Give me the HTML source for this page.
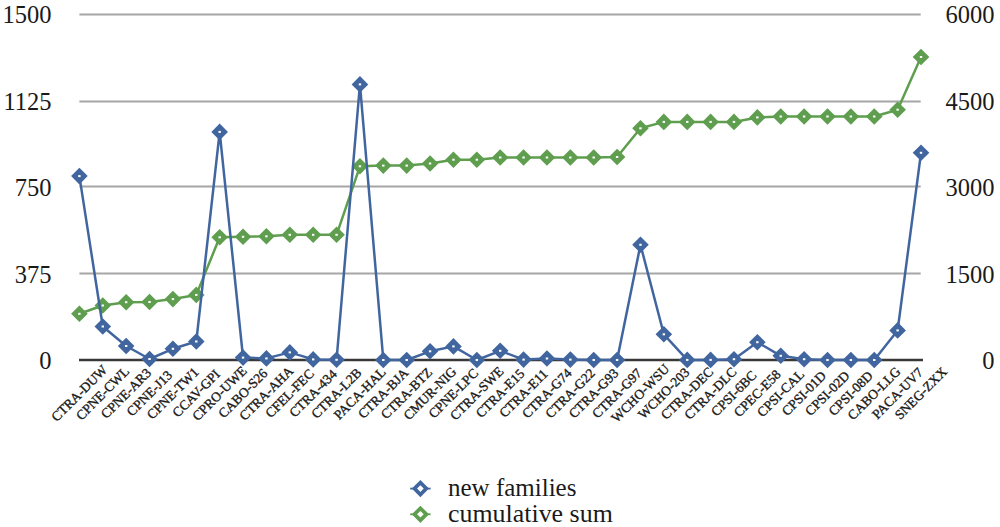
<!DOCTYPE html>
<html><head><meta charset="utf-8"><title>chart</title>
<style>
html,body{margin:0;padding:0;background:#fff;width:1000px;height:527px;overflow:hidden}
svg{display:block}
text{font-family:"Liberation Serif",serif;fill:#1a1a1a}
.ax{font-size:24.5px}
.xl{font-size:13.5px;stroke:#1a1a1a;stroke-width:0.35px}
.lg{font-size:25px}
</style></head><body>
<svg width="1000" height="527" viewBox="0 0 1000 527">
<rect width="1000" height="527" fill="#fff"/>
<line x1="79.4" y1="14.5" x2="920.7" y2="14.5" stroke="#a6a6a6" stroke-width="2"/>
<line x1="79.4" y1="101.5" x2="920.7" y2="101.5" stroke="#a6a6a6" stroke-width="2"/>
<line x1="79.4" y1="186.5" x2="920.7" y2="186.5" stroke="#a6a6a6" stroke-width="2"/>
<line x1="79.4" y1="273.5" x2="920.7" y2="273.5" stroke="#a6a6a6" stroke-width="2"/>
<line x1="79" y1="360" x2="923" y2="360" stroke="#383838" stroke-width="2.4"/>
<polyline points="79.40,313.80 102.78,305.50 126.16,302.20 149.53,302.00 172.91,299.10 196.29,294.90 219.67,237.30 243.05,236.80 266.42,236.30 289.80,234.80 313.18,234.80 336.56,234.80 359.94,166.30 383.31,165.60 406.69,165.60 430.07,163.50 453.45,159.70 476.83,159.70 500.20,157.50 523.58,157.50 546.96,157.50 570.34,157.50 593.72,157.50 617.09,157.00 640.47,128.30 663.85,121.90 687.23,121.90 710.61,121.90 733.98,121.90 757.36,117.40 780.74,116.50 804.12,116.50 827.50,116.50 850.87,116.50 874.25,116.50 897.63,109.70 921.01,57.00" fill="none" stroke="#5e9e4e" stroke-width="2.5" stroke-linejoin="round"/>
<path d="M79.40 305.50L87.70 313.80L79.40 322.10L71.10 313.80Z" fill="#5e9e4e"/>
<rect x="78.20" y="312.80" width="2.4" height="2" fill="#fff"/>
<path d="M102.78 297.20L111.08 305.50L102.78 313.80L94.48 305.50Z" fill="#5e9e4e"/>
<rect x="101.58" y="304.50" width="2.4" height="2" fill="#fff"/>
<path d="M126.16 293.90L134.46 302.20L126.16 310.50L117.86 302.20Z" fill="#5e9e4e"/>
<rect x="124.96" y="301.20" width="2.4" height="2" fill="#fff"/>
<path d="M149.53 293.70L157.83 302.00L149.53 310.30L141.23 302.00Z" fill="#5e9e4e"/>
<rect x="148.33" y="301.00" width="2.4" height="2" fill="#fff"/>
<path d="M172.91 290.80L181.21 299.10L172.91 307.40L164.61 299.10Z" fill="#5e9e4e"/>
<rect x="171.71" y="298.10" width="2.4" height="2" fill="#fff"/>
<path d="M196.29 286.60L204.59 294.90L196.29 303.20L187.99 294.90Z" fill="#5e9e4e"/>
<rect x="195.09" y="293.90" width="2.4" height="2" fill="#fff"/>
<path d="M219.67 229.00L227.97 237.30L219.67 245.60L211.37 237.30Z" fill="#5e9e4e"/>
<rect x="218.47" y="236.30" width="2.4" height="2" fill="#fff"/>
<path d="M243.05 228.50L251.35 236.80L243.05 245.10L234.75 236.80Z" fill="#5e9e4e"/>
<rect x="241.85" y="235.80" width="2.4" height="2" fill="#fff"/>
<path d="M266.42 228.00L274.72 236.30L266.42 244.60L258.12 236.30Z" fill="#5e9e4e"/>
<rect x="265.22" y="235.30" width="2.4" height="2" fill="#fff"/>
<path d="M289.80 226.50L298.10 234.80L289.80 243.10L281.50 234.80Z" fill="#5e9e4e"/>
<rect x="288.60" y="233.80" width="2.4" height="2" fill="#fff"/>
<path d="M313.18 226.50L321.48 234.80L313.18 243.10L304.88 234.80Z" fill="#5e9e4e"/>
<rect x="311.98" y="233.80" width="2.4" height="2" fill="#fff"/>
<path d="M336.56 226.50L344.86 234.80L336.56 243.10L328.26 234.80Z" fill="#5e9e4e"/>
<rect x="335.36" y="233.80" width="2.4" height="2" fill="#fff"/>
<path d="M359.94 158.00L368.24 166.30L359.94 174.60L351.64 166.30Z" fill="#5e9e4e"/>
<rect x="358.74" y="165.30" width="2.4" height="2" fill="#fff"/>
<path d="M383.31 157.30L391.61 165.60L383.31 173.90L375.01 165.60Z" fill="#5e9e4e"/>
<rect x="382.11" y="164.60" width="2.4" height="2" fill="#fff"/>
<path d="M406.69 157.30L414.99 165.60L406.69 173.90L398.39 165.60Z" fill="#5e9e4e"/>
<rect x="405.49" y="164.60" width="2.4" height="2" fill="#fff"/>
<path d="M430.07 155.20L438.37 163.50L430.07 171.80L421.77 163.50Z" fill="#5e9e4e"/>
<rect x="428.87" y="162.50" width="2.4" height="2" fill="#fff"/>
<path d="M453.45 151.40L461.75 159.70L453.45 168.00L445.15 159.70Z" fill="#5e9e4e"/>
<rect x="452.25" y="158.70" width="2.4" height="2" fill="#fff"/>
<path d="M476.83 151.40L485.13 159.70L476.83 168.00L468.53 159.70Z" fill="#5e9e4e"/>
<rect x="475.63" y="158.70" width="2.4" height="2" fill="#fff"/>
<path d="M500.20 149.20L508.50 157.50L500.20 165.80L491.90 157.50Z" fill="#5e9e4e"/>
<rect x="499.00" y="156.50" width="2.4" height="2" fill="#fff"/>
<path d="M523.58 149.20L531.88 157.50L523.58 165.80L515.28 157.50Z" fill="#5e9e4e"/>
<rect x="522.38" y="156.50" width="2.4" height="2" fill="#fff"/>
<path d="M546.96 149.20L555.26 157.50L546.96 165.80L538.66 157.50Z" fill="#5e9e4e"/>
<rect x="545.76" y="156.50" width="2.4" height="2" fill="#fff"/>
<path d="M570.34 149.20L578.64 157.50L570.34 165.80L562.04 157.50Z" fill="#5e9e4e"/>
<rect x="569.14" y="156.50" width="2.4" height="2" fill="#fff"/>
<path d="M593.72 149.20L602.02 157.50L593.72 165.80L585.42 157.50Z" fill="#5e9e4e"/>
<rect x="592.52" y="156.50" width="2.4" height="2" fill="#fff"/>
<path d="M617.09 148.70L625.39 157.00L617.09 165.30L608.79 157.00Z" fill="#5e9e4e"/>
<rect x="615.89" y="156.00" width="2.4" height="2" fill="#fff"/>
<path d="M640.47 120.00L648.77 128.30L640.47 136.60L632.17 128.30Z" fill="#5e9e4e"/>
<rect x="639.27" y="127.30" width="2.4" height="2" fill="#fff"/>
<path d="M663.85 113.60L672.15 121.90L663.85 130.20L655.55 121.90Z" fill="#5e9e4e"/>
<rect x="662.65" y="120.90" width="2.4" height="2" fill="#fff"/>
<path d="M687.23 113.60L695.53 121.90L687.23 130.20L678.93 121.90Z" fill="#5e9e4e"/>
<rect x="686.03" y="120.90" width="2.4" height="2" fill="#fff"/>
<path d="M710.61 113.60L718.91 121.90L710.61 130.20L702.31 121.90Z" fill="#5e9e4e"/>
<rect x="709.41" y="120.90" width="2.4" height="2" fill="#fff"/>
<path d="M733.98 113.60L742.28 121.90L733.98 130.20L725.68 121.90Z" fill="#5e9e4e"/>
<rect x="732.78" y="120.90" width="2.4" height="2" fill="#fff"/>
<path d="M757.36 109.10L765.66 117.40L757.36 125.70L749.06 117.40Z" fill="#5e9e4e"/>
<rect x="756.16" y="116.40" width="2.4" height="2" fill="#fff"/>
<path d="M780.74 108.20L789.04 116.50L780.74 124.80L772.44 116.50Z" fill="#5e9e4e"/>
<rect x="779.54" y="115.50" width="2.4" height="2" fill="#fff"/>
<path d="M804.12 108.20L812.42 116.50L804.12 124.80L795.82 116.50Z" fill="#5e9e4e"/>
<rect x="802.92" y="115.50" width="2.4" height="2" fill="#fff"/>
<path d="M827.50 108.20L835.80 116.50L827.50 124.80L819.20 116.50Z" fill="#5e9e4e"/>
<rect x="826.30" y="115.50" width="2.4" height="2" fill="#fff"/>
<path d="M850.87 108.20L859.17 116.50L850.87 124.80L842.57 116.50Z" fill="#5e9e4e"/>
<rect x="849.67" y="115.50" width="2.4" height="2" fill="#fff"/>
<path d="M874.25 108.20L882.55 116.50L874.25 124.80L865.95 116.50Z" fill="#5e9e4e"/>
<rect x="873.05" y="115.50" width="2.4" height="2" fill="#fff"/>
<path d="M897.63 101.40L905.93 109.70L897.63 118.00L889.33 109.70Z" fill="#5e9e4e"/>
<rect x="896.43" y="108.70" width="2.4" height="2" fill="#fff"/>
<path d="M921.01 48.70L929.31 57.00L921.01 65.30L912.71 57.00Z" fill="#5e9e4e"/>
<rect x="919.81" y="56.00" width="2.4" height="2" fill="#fff"/>
<polyline points="79.40,176.10 102.78,326.50 126.16,346.00 149.53,359.00 172.91,348.80 196.29,341.50 219.67,131.90 243.05,357.60 266.42,358.40 289.80,352.40 313.18,359.40 336.56,359.80 359.94,84.40 383.31,360.00 406.69,360.00 430.07,351.30 453.45,346.40 476.83,360.00 500.20,350.80 523.58,359.60 546.96,358.50 570.34,359.60 593.72,360.00 617.09,360.00 640.47,244.80 663.85,334.30 687.23,359.90 710.61,359.90 733.98,359.20 757.36,342.20 780.74,355.80 804.12,359.20 827.50,360.00 850.87,360.00 874.25,360.00 897.63,330.40 921.01,152.80" fill="none" stroke="#41669f" stroke-width="2.5" stroke-linejoin="round"/>
<path d="M79.40 167.80L87.70 176.10L79.40 184.40L71.10 176.10Z" fill="#41669f"/>
<rect x="78.20" y="175.10" width="2.4" height="2" fill="#fff"/>
<path d="M102.78 318.20L111.08 326.50L102.78 334.80L94.48 326.50Z" fill="#41669f"/>
<rect x="101.58" y="325.50" width="2.4" height="2" fill="#fff"/>
<path d="M126.16 337.70L134.46 346.00L126.16 354.30L117.86 346.00Z" fill="#41669f"/>
<rect x="124.96" y="345.00" width="2.4" height="2" fill="#fff"/>
<path d="M149.53 350.70L157.83 359.00L149.53 367.30L141.23 359.00Z" fill="#41669f"/>
<rect x="148.33" y="358.00" width="2.4" height="2" fill="#fff"/>
<path d="M172.91 340.50L181.21 348.80L172.91 357.10L164.61 348.80Z" fill="#41669f"/>
<rect x="171.71" y="347.80" width="2.4" height="2" fill="#fff"/>
<path d="M196.29 333.20L204.59 341.50L196.29 349.80L187.99 341.50Z" fill="#41669f"/>
<rect x="195.09" y="340.50" width="2.4" height="2" fill="#fff"/>
<path d="M219.67 123.60L227.97 131.90L219.67 140.20L211.37 131.90Z" fill="#41669f"/>
<rect x="218.47" y="130.90" width="2.4" height="2" fill="#fff"/>
<path d="M243.05 349.30L251.35 357.60L243.05 365.90L234.75 357.60Z" fill="#41669f"/>
<rect x="241.85" y="356.60" width="2.4" height="2" fill="#fff"/>
<path d="M266.42 350.10L274.72 358.40L266.42 366.70L258.12 358.40Z" fill="#41669f"/>
<rect x="265.22" y="357.40" width="2.4" height="2" fill="#fff"/>
<path d="M289.80 344.10L298.10 352.40L289.80 360.70L281.50 352.40Z" fill="#41669f"/>
<rect x="288.60" y="351.40" width="2.4" height="2" fill="#fff"/>
<path d="M313.18 351.10L321.48 359.40L313.18 367.70L304.88 359.40Z" fill="#41669f"/>
<rect x="311.98" y="358.40" width="2.4" height="2" fill="#fff"/>
<path d="M336.56 351.50L344.86 359.80L336.56 368.10L328.26 359.80Z" fill="#41669f"/>
<rect x="335.36" y="358.80" width="2.4" height="2" fill="#fff"/>
<path d="M359.94 76.10L368.24 84.40L359.94 92.70L351.64 84.40Z" fill="#41669f"/>
<rect x="358.74" y="83.40" width="2.4" height="2" fill="#fff"/>
<path d="M383.31 351.70L391.61 360.00L383.31 368.30L375.01 360.00Z" fill="#41669f"/>
<rect x="382.11" y="359.00" width="2.4" height="2" fill="#fff"/>
<path d="M406.69 351.70L414.99 360.00L406.69 368.30L398.39 360.00Z" fill="#41669f"/>
<rect x="405.49" y="359.00" width="2.4" height="2" fill="#fff"/>
<path d="M430.07 343.00L438.37 351.30L430.07 359.60L421.77 351.30Z" fill="#41669f"/>
<rect x="428.87" y="350.30" width="2.4" height="2" fill="#fff"/>
<path d="M453.45 338.10L461.75 346.40L453.45 354.70L445.15 346.40Z" fill="#41669f"/>
<rect x="452.25" y="345.40" width="2.4" height="2" fill="#fff"/>
<path d="M476.83 351.70L485.13 360.00L476.83 368.30L468.53 360.00Z" fill="#41669f"/>
<rect x="475.63" y="359.00" width="2.4" height="2" fill="#fff"/>
<path d="M500.20 342.50L508.50 350.80L500.20 359.10L491.90 350.80Z" fill="#41669f"/>
<rect x="499.00" y="349.80" width="2.4" height="2" fill="#fff"/>
<path d="M523.58 351.30L531.88 359.60L523.58 367.90L515.28 359.60Z" fill="#41669f"/>
<rect x="522.38" y="358.60" width="2.4" height="2" fill="#fff"/>
<path d="M546.96 350.20L555.26 358.50L546.96 366.80L538.66 358.50Z" fill="#41669f"/>
<rect x="545.76" y="357.50" width="2.4" height="2" fill="#fff"/>
<path d="M570.34 351.30L578.64 359.60L570.34 367.90L562.04 359.60Z" fill="#41669f"/>
<rect x="569.14" y="358.60" width="2.4" height="2" fill="#fff"/>
<path d="M593.72 351.70L602.02 360.00L593.72 368.30L585.42 360.00Z" fill="#41669f"/>
<rect x="592.52" y="359.00" width="2.4" height="2" fill="#fff"/>
<path d="M617.09 351.70L625.39 360.00L617.09 368.30L608.79 360.00Z" fill="#41669f"/>
<rect x="615.89" y="359.00" width="2.4" height="2" fill="#fff"/>
<path d="M640.47 236.50L648.77 244.80L640.47 253.10L632.17 244.80Z" fill="#41669f"/>
<rect x="639.27" y="243.80" width="2.4" height="2" fill="#fff"/>
<path d="M663.85 326.00L672.15 334.30L663.85 342.60L655.55 334.30Z" fill="#41669f"/>
<rect x="662.65" y="333.30" width="2.4" height="2" fill="#fff"/>
<path d="M687.23 351.60L695.53 359.90L687.23 368.20L678.93 359.90Z" fill="#41669f"/>
<rect x="686.03" y="358.90" width="2.4" height="2" fill="#fff"/>
<path d="M710.61 351.60L718.91 359.90L710.61 368.20L702.31 359.90Z" fill="#41669f"/>
<rect x="709.41" y="358.90" width="2.4" height="2" fill="#fff"/>
<path d="M733.98 350.90L742.28 359.20L733.98 367.50L725.68 359.20Z" fill="#41669f"/>
<rect x="732.78" y="358.20" width="2.4" height="2" fill="#fff"/>
<path d="M757.36 333.90L765.66 342.20L757.36 350.50L749.06 342.20Z" fill="#41669f"/>
<rect x="756.16" y="341.20" width="2.4" height="2" fill="#fff"/>
<path d="M780.74 347.50L789.04 355.80L780.74 364.10L772.44 355.80Z" fill="#41669f"/>
<rect x="779.54" y="354.80" width="2.4" height="2" fill="#fff"/>
<path d="M804.12 350.90L812.42 359.20L804.12 367.50L795.82 359.20Z" fill="#41669f"/>
<rect x="802.92" y="358.20" width="2.4" height="2" fill="#fff"/>
<path d="M827.50 351.70L835.80 360.00L827.50 368.30L819.20 360.00Z" fill="#41669f"/>
<rect x="826.30" y="359.00" width="2.4" height="2" fill="#fff"/>
<path d="M850.87 351.70L859.17 360.00L850.87 368.30L842.57 360.00Z" fill="#41669f"/>
<rect x="849.67" y="359.00" width="2.4" height="2" fill="#fff"/>
<path d="M874.25 351.70L882.55 360.00L874.25 368.30L865.95 360.00Z" fill="#41669f"/>
<rect x="873.05" y="359.00" width="2.4" height="2" fill="#fff"/>
<path d="M897.63 322.10L905.93 330.40L897.63 338.70L889.33 330.40Z" fill="#41669f"/>
<rect x="896.43" y="329.40" width="2.4" height="2" fill="#fff"/>
<path d="M921.01 144.50L929.31 152.80L921.01 161.10L912.71 152.80Z" fill="#41669f"/>
<rect x="919.81" y="151.80" width="2.4" height="2" fill="#fff"/>
<text x="51.6" y="23.10" text-anchor="end" class="ax">1500</text>
<text x="51.6" y="110.20" text-anchor="end" class="ax">1125</text>
<text x="51.6" y="195.90" text-anchor="end" class="ax">750</text>
<text x="51.6" y="282.90" text-anchor="end" class="ax">375</text>
<text x="51.6" y="368.60" text-anchor="end" class="ax">0</text>
<text x="994.6" y="23.10" text-anchor="end" class="ax">6000</text>
<text x="994.6" y="110.20" text-anchor="end" class="ax">4500</text>
<text x="994.6" y="195.90" text-anchor="end" class="ax">3000</text>
<text x="994.6" y="282.90" text-anchor="end" class="ax">1500</text>
<text x="994.6" y="368.60" text-anchor="end" class="ax">0</text>
<text transform="translate(82.40,396.5) rotate(-45)" text-anchor="middle" class="xl">CTRA-DUW</text>
<text transform="translate(105.78,396.5) rotate(-45)" text-anchor="middle" class="xl">CPNE-CWL</text>
<text transform="translate(129.16,396.5) rotate(-45)" text-anchor="middle" class="xl">CPNE-AR3</text>
<text transform="translate(152.53,396.5) rotate(-45)" text-anchor="middle" class="xl">CPNE-J13</text>
<text transform="translate(175.91,396.5) rotate(-45)" text-anchor="middle" class="xl">CPNE-TW1</text>
<text transform="translate(199.29,396.5) rotate(-45)" text-anchor="middle" class="xl">CCAV-GPI</text>
<text transform="translate(222.67,396.5) rotate(-45)" text-anchor="middle" class="xl">CPRO-UWE</text>
<text transform="translate(246.05,396.5) rotate(-45)" text-anchor="middle" class="xl">CABO-S26</text>
<text transform="translate(269.42,396.5) rotate(-45)" text-anchor="middle" class="xl">CTRA-AHA</text>
<text transform="translate(292.80,396.5) rotate(-45)" text-anchor="middle" class="xl">CFEL-FEC</text>
<text transform="translate(316.18,396.5) rotate(-45)" text-anchor="middle" class="xl">CTRA-434</text>
<text transform="translate(339.56,396.5) rotate(-45)" text-anchor="middle" class="xl">CTRA-L2B</text>
<text transform="translate(362.94,396.5) rotate(-45)" text-anchor="middle" class="xl">PACA-HAL</text>
<text transform="translate(386.31,396.5) rotate(-45)" text-anchor="middle" class="xl">CTRA-BJA</text>
<text transform="translate(409.69,396.5) rotate(-45)" text-anchor="middle" class="xl">CTRA-BTZ</text>
<text transform="translate(433.07,396.5) rotate(-45)" text-anchor="middle" class="xl">CMUR-NIG</text>
<text transform="translate(456.45,396.5) rotate(-45)" text-anchor="middle" class="xl">CPNE-LPC</text>
<text transform="translate(479.83,396.5) rotate(-45)" text-anchor="middle" class="xl">CTRA-SWE</text>
<text transform="translate(503.20,396.5) rotate(-45)" text-anchor="middle" class="xl">CTRA-E15</text>
<text transform="translate(526.58,396.5) rotate(-45)" text-anchor="middle" class="xl">CTRA-E11</text>
<text transform="translate(549.96,396.5) rotate(-45)" text-anchor="middle" class="xl">CTRA-G74</text>
<text transform="translate(573.34,396.5) rotate(-45)" text-anchor="middle" class="xl">CTRA-G22</text>
<text transform="translate(596.72,396.5) rotate(-45)" text-anchor="middle" class="xl">CTRA-G93</text>
<text transform="translate(620.09,396.5) rotate(-45)" text-anchor="middle" class="xl">CTRA-G97</text>
<text transform="translate(643.47,396.5) rotate(-45)" text-anchor="middle" class="xl">WCHO-WSU</text>
<text transform="translate(666.85,396.5) rotate(-45)" text-anchor="middle" class="xl">WCHO-203</text>
<text transform="translate(690.23,396.5) rotate(-45)" text-anchor="middle" class="xl">CTRA-DEC</text>
<text transform="translate(713.61,396.5) rotate(-45)" text-anchor="middle" class="xl">CTRA-DLC</text>
<text transform="translate(736.98,396.5) rotate(-45)" text-anchor="middle" class="xl">CPSI-6BC</text>
<text transform="translate(760.36,396.5) rotate(-45)" text-anchor="middle" class="xl">CPEC-E58</text>
<text transform="translate(783.74,396.5) rotate(-45)" text-anchor="middle" class="xl">CPSI-CAL</text>
<text transform="translate(807.12,396.5) rotate(-45)" text-anchor="middle" class="xl">CPSI-01D</text>
<text transform="translate(830.50,396.5) rotate(-45)" text-anchor="middle" class="xl">CPSI-02D</text>
<text transform="translate(853.87,396.5) rotate(-45)" text-anchor="middle" class="xl">CPSI-08D</text>
<text transform="translate(877.25,396.5) rotate(-45)" text-anchor="middle" class="xl">CABO-LLG</text>
<text transform="translate(900.63,396.5) rotate(-45)" text-anchor="middle" class="xl">PACA-UV7</text>
<text transform="translate(924.01,396.5) rotate(-45)" text-anchor="middle" class="xl">SNEG-ZXX</text>
<line x1="410.2" y1="488.6" x2="430.59999999999997" y2="488.6" stroke="#41669f" stroke-width="1.8"/>
<path d="M420.4 480.0L429.0 488.6L420.4 497.20000000000005L411.79999999999995 488.6Z" fill="#41669f"/>
<path d="M420.4 485.3L423.7 488.6L420.4 491.90000000000003L417.09999999999997 488.6Z" fill="#fff"/>
<text x="448.0" y="495.7" class="lg" textLength="128.4" lengthAdjust="spacingAndGlyphs">new families</text>
<line x1="410.2" y1="514.3" x2="430.59999999999997" y2="514.3" stroke="#5e9e4e" stroke-width="1.8"/>
<path d="M420.4 505.69999999999993L429.0 514.3L420.4 522.9L411.79999999999995 514.3Z" fill="#5e9e4e"/>
<path d="M420.4 510.99999999999994L423.7 514.3L420.4 517.5999999999999L417.09999999999997 514.3Z" fill="#fff"/>
<text x="448.0" y="522.0" class="lg" textLength="164.8" lengthAdjust="spacingAndGlyphs">cumulative sum</text>
</svg>
</body></html>
